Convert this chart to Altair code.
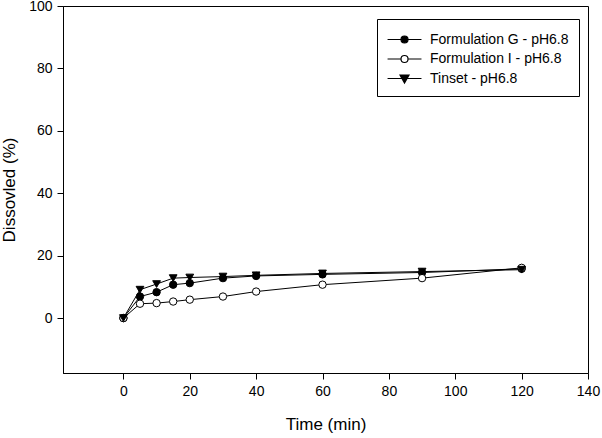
import altair as alt
import pandas as pd

time_min = [0, 5, 10, 15, 20, 30, 40, 60, 90, 120]
form_g = [0, 6.9, 8.3, 10.7, 11.2, 12.8, 13.5, 14.0, 14.6, 15.8]
form_i = [0, 4.6, 4.8, 5.3, 5.9, 6.9, 8.5, 10.7, 12.8, 16.1]
tinset = [0, 9.1, 10.9, 12.8, 13.0, 13.3, 13.7, 14.3, 14.9, 15.5]
series_names = ["Formulation G - pH6.8", "Formulation I - pH6.8", "Tinset - pH6.8"]
x_ticks = [0, 20, 40, 60, 80, 100, 120, 140]
y_ticks = [0, 20, 40, 60, 80, 100]

rows = []
for name, vals in zip(series_names, [form_g, form_i, tinset]):
    for t, v in zip(time_min, vals):
        rows.append({"time": t, "value": v, "series": name})
df = pd.DataFrame(rows)

FONT = "Liberation Sans"

x_enc = alt.X("time:Q", scale=alt.Scale(domain=[-18.2, 140], nice=False, zero=False),
              axis=alt.Axis(values=x_ticks, title="Time (min)", grid=False))
y_enc = alt.Y("value:Q", scale=alt.Scale(domain=[-17.6, 100], nice=False, zero=False),
              axis=alt.Axis(values=y_ticks, title="Dissovled (%)", grid=False))

base = alt.Chart(df)

lines = base.mark_line(color="black", strokeWidth=1).encode(
    x=x_enc, y=y_enc, detail="series:N", order="time:Q")

pt_g = base.transform_filter(alt.datum.series == series_names[0]).mark_point(
    shape="circle", filled=True, fill="black", stroke="black", strokeWidth=1, size=55, opacity=1
).encode(x=x_enc, y=y_enc)
pt_i = base.transform_filter(alt.datum.series == series_names[1]).mark_point(
    shape="circle", filled=True, fill="white", stroke="black", strokeWidth=1, size=55, opacity=1
).encode(x=x_enc, y=y_enc)
pt_t = base.transform_filter(alt.datum.series == series_names[2]).mark_point(
    shape="triangle-down", filled=True, fill="black", stroke="black", strokeWidth=1, size=60, opacity=1
).encode(x=x_enc, y=y_enc)

legend_paths = [
    "M-1.02,0H2.46M0.36,0A0.36,0.36,0,1,0,1.08,0A0.36,0.36,0,1,0,0.36,0Z",
    "M-1.02,0H0.36M1.08,0H2.46M0.36,0A0.36,0.36,0,1,0,1.08,0A0.36,0.36,0,1,0,0.36,0Z",
    "M-1.02,0H2.46M0.26,-0.36L1.18,-0.36L0.72,0.46Z",
]
leg = alt.Legend(
    title=None, orient="none", legendX=314, legendY=13,
    strokeColor="black", padding=10, symbolSize=380,
    symbolStrokeColor="black", symbolStrokeWidth=1.2, symbolOpacity=1,
    labelFont=FONT, labelFontSize=14, labelColor="black",
    rowPadding=1.5, labelOffset=22, fillColor="white",
)
legend_layer = base.mark_point(filled=True, opacity=0).encode(
    x=x_enc, y=y_enc,
    shape=alt.Shape("series:N", scale=alt.Scale(domain=series_names, range=legend_paths), legend=leg),
    fill=alt.Fill("series:N", scale=alt.Scale(domain=series_names, range=["black", "white", "black"]), legend=leg),
    stroke=alt.Stroke("series:N", scale=alt.Scale(domain=series_names, range=["black", "black", "black"]), legend=leg),
)

chart = alt.layer(legend_layer, lines, pt_g, pt_i, pt_t).properties(
    width=525, height=367,
    padding={"left": 63, "top": 6, "right": 14, "bottom": 65},
    autosize=alt.AutoSizeParams(type="none"),
).configure_view(stroke="black", strokeWidth=1).configure_axis(
    domainColor="black", tickColor="black", tickSize=6, labelFont=FONT, labelFontSize=14,
    labelColor="black", titleFont=FONT, titleFontSize=17, titleFontWeight="normal",
    titleColor="black", labelPadding=5, labelFlush=False, labelOverlap=False,
).configure_axisX(titlePadding=18).configure_axisY(titlePadding=10)

chart.save("out.html", embed_options={"renderer": "svg", "actions": False})
